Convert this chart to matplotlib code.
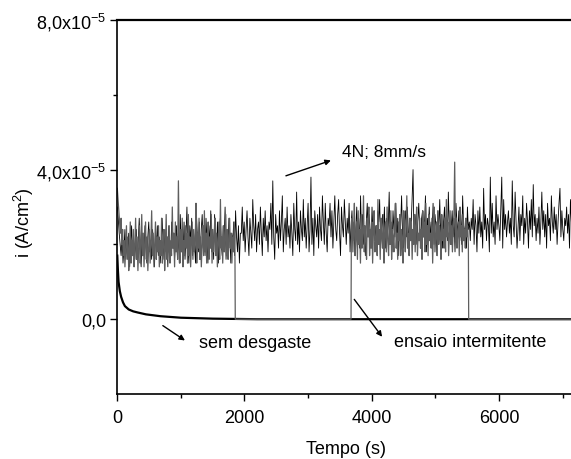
import numpy as np
import matplotlib
matplotlib.use("Agg")
import matplotlib.pyplot as plt
from matplotlib.ticker import MultipleLocator, FixedLocator

plt.rcParams['font.family'] = ['Liberation Sans', 'DejaVu Sans']
plt.rcParams['mathtext.default'] = 'regular'

# Values, current in units of 1e-6 A/cm2
# continuous test, 4N; 8mm/s (black), 0 .. 7200 s
i_black = [30, 27, 23, 20, 17, 22, 15, 19, 24, 16,
           21, 18, 23, 14, 20, 25, 17, 22, 15, 19,
           24, 16, 21, 27, 18, 14, 23, 20, 17, 25,
           19, 15, 22, 26, 18, 21, 16, 24, 19, 14,
           23, 20, 25, 17, 22, 15, 19, 27, 21, 16,
           24, 18, 22, 14, 25, 20, 17, 26, 19, 23,
           16, 21, 25, 17, 23, 15, 28, 20, 24, 18,
           26, 16, 22, 30, 19, 15, 25, 21, 27, 17,
           23, 20, 15, 28, 22, 18, 26, 16, 24, 28,
           19, 23, 17, 27, 21, 15, 25, 20, 29, 18,
           24, 16, 28, 22, 19, 26, 15, 23, 27, 20,
           17, 25, 21, 30, 16, 24, 19, 27, 22, 15,
           23, 20, 26, 17, 29, 22, 18, 25, 15, 23,
           23, 30, 21, 26, 18, 24, 29, 22, 17, 27,
           23, 19, 32, 25, 21, 28, 18, 24, 26, 20,
           30, 23, 17, 27, 22, 29, 21, 25, 18, 26,
           24, 31, 20, 37, 22, 16, 28, 23, 25, 19,
           29, 21, 26, 33, 18, 24, 27, 20, 30, 22,
           25, 19, 28, 23, 17, 31, 24, 21, 34, 20,
           26, 18, 29, 24, 21, 32, 22, 27, 19, 25,
           31, 18, 24, 38, 20, 27, 17, 29, 25, 22,
           28, 19, 30, 24, 21, 33, 26, 20, 31, 23,
           18, 27, 25, 31, 22, 29, 19, 26, 33, 24,
           21, 28, 32, 23, 17, 30, 25, 22, 32, 26,
           20, 27, 23, 31, 18, 25, 29, 21, 26, 17,
           24, 30, 22, 27, 19, 33, 23, 28, 20, 25,
           17, 26, 31, 22, 28, 24, 19, 30, 23, 27,
           21, 25, 18, 29, 26, 32, 20, 24, 28, 22,
           30, 19, 27, 23, 25, 34, 21, 26, 18, 29,
           24, 22, 31, 20, 27, 17, 28, 25, 33, 23,
           19, 26, 29, 22, 30, 24, 18, 27, 25, 32,
           40, 21, 23, 28, 20, 26, 31, 24, 19, 27,
           29, 22, 25, 33, 18, 27, 24, 30, 21, 26,
           23, 31, 20, 28, 25, 17, 29, 24, 32, 22,
           27, 19, 26, 30, 23, 28, 21, 34, 25, 20,
           24, 29, 22, 27, 18, 31, 26, 23, 29, 21,
           28, 20, 33, 25, 22, 27, 19, 30, 24, 26,
           21, 27, 24, 32, 20, 28, 25, 18, 29, 23,
           30, 22, 26, 19, 35, 24, 28, 21, 27, 25,
           18, 38, 23, 31, 22, 26, 20, 33, 24, 28,
           25, 21, 30, 38, 19, 32, 24, 28, 22, 26,
           29, 23, 27, 20, 37, 25, 22, 34, 26, 19,
           24, 30, 21, 28, 25, 33, 20, 27, 23, 31,
           26, 19, 29, 24, 32, 22, 36, 25, 28, 21,
           27, 23, 30, 20, 26, 34, 24, 29, 22, 28,
           19, 31, 25, 27, 21, 33, 26, 23, 30, 24,
           28, 20, 26, 31, 35, 22, 29, 24, 21, 27,
           25, 30, 23, 28, 19, 32, 26, 24, 29, 22,
           26]
t_black_end = 7200

# intermittent test (gray): wear on 0-1850 s and 3680-5520 s, zero otherwise
i_gray_on1 = [35, 32, 29, 26, 23, 27, 20, 24, 17, 21,
              14, 19, 25, 16, 22, 13, 18, 26, 15, 21,
              17, 24, 14, 20, 27, 16, 22, 13, 19, 25,
              15, 21, 28, 17, 23, 14, 20, 26, 16, 22,
              13, 19, 24, 15, 21, 29, 17, 23, 14, 20,
              26, 16, 22, 18, 25, 14, 21, 17, 27, 15,
              20, 24, 13, 19, 28, 16, 22, 18, 25, 15,
              21, 17, 30, 19, 23, 14, 26, 18, 22, 16,
              37, 20, 15, 24, 18, 27, 14, 21, 17, 25,
              19, 23, 15, 28, 17, 22, 14, 20, 26, 16,
              24, 18, 21, 31, 15, 23, 19, 27, 16, 22,
              14, 20, 25, 17, 29, 18, 23, 15, 21, 26,
              16, 22, 19, 28, 15, 24, 18, 21, 27, 17,
              23, 14, 20, 26, 16, 32, 19, 22, 15, 25,
              18, 21, 28, 17, 24, 16, 20, 27, 19, 23,
              15, 22, 18, 26, 17]
i_gray_on2 = [22, 27, 18, 24, 31, 17, 22, 26, 16, 29,
              20, 24, 15, 28, 19, 23, 33, 18, 25, 21,
              16, 27, 22, 30, 17, 24, 19, 26, 15, 23,
              29, 18, 21, 25, 17, 32, 20, 24, 16, 27,
              22, 19, 28, 15, 23, 26, 18, 30, 21, 17,
              25, 20, 29, 16, 24, 22, 18, 27, 31, 19,
              23, 16, 26, 21, 28, 17, 24, 20, 15, 29,
              22, 18, 25, 33, 19, 23, 17, 27, 21, 26,
              16, 24, 20, 28, 18, 25, 30, 17, 23, 21,
              27, 19, 24, 16, 29, 22, 26, 18, 31, 20,
              25, 17, 28, 21, 23, 19, 27, 15, 24, 30,
              18, 22, 26, 17, 29, 20, 25, 23, 16, 28,
              21, 24, 19, 27, 18, 32, 22, 26, 17, 23,
              29, 20, 25, 18, 24, 28, 42, 21, 27, 19,
              23, 26, 17, 30, 22, 25, 18, 28, 21, 24,
              19, 27, 22, 25, 20]
on_periods = [(0, 1850), (3680, 5520)]

# no wear (sem desgaste)
t_sd = [0, 10, 20, 40, 60, 90, 120, 180, 250, 320, 450, 680, 1000, 1500, 2200, 7200]
i_sd = [17, 13, 10, 7.5, 6, 4.5, 3.5, 2.6, 2.1, 1.8, 1.3, 0.8, 0.4, 0.15, 0, 0]

scale = 1e-6

# build arrays
t_b = np.linspace(0, t_black_end, len(i_black))
y_b = np.array(i_black) * scale

t_g1 = np.linspace(on_periods[0][0], on_periods[0][1], len(i_gray_on1))
t_g2 = np.linspace(on_periods[1][0], on_periods[1][1], len(i_gray_on2))
t_g = np.concatenate([t_g1, [on_periods[0][1] + 5, on_periods[1][0] - 5], t_g2,
                      [on_periods[1][1] + 5, t_black_end]])
y_g = np.concatenate([np.array(i_gray_on1) * scale, [0, 0],
                      np.array(i_gray_on2) * scale, [0, 0]])

fig = plt.figure(figsize=(5.71, 4.6), dpi=100)
ax = fig.add_axes([0.2054, 0.1413, 0.802, 0.813])

ax.plot(t_b, y_b, color='black', lw=0.6)
ax.plot(t_sd, np.array(i_sd) * scale, color='black', lw=1.6)
ax.plot(t_g, y_g, color='#5e5e5e', lw=0.9)

ax.set_xlim(0, 7200)
ax.set_ylim(-2e-5, 8e-5)

# ticks
ax.xaxis.set_major_locator(MultipleLocator(2000))
ax.xaxis.set_minor_locator(MultipleLocator(1000))
ax.yaxis.set_major_locator(FixedLocator([0, 4e-5, 8e-5]))
ax.yaxis.set_minor_locator(FixedLocator([2e-5, 6e-5]))
ax.set_yticklabels(['0,0', '4,0x10$^{-5}$', '8,0x10$^{-5}$'])
ax.tick_params(which='major', direction='out', length=5, width=1, labelsize=13)
ax.tick_params(which='minor', direction='out', length=3, width=1)
ax.tick_params(axis='x', which='major', pad=6)
ax.tick_params(axis='y', which='major', pad=3)

for s in ['left', 'bottom']:
    ax.spines[s].set_linewidth(1.2)
ax.spines['top'].set_linewidth(1.6)
ax.spines['right'].set_visible(False)

ax.set_xlabel('Tempo (s)', fontsize=13, labelpad=10)
ax.set_ylabel('i (A/cm$^2$)', fontsize=13)
ax.yaxis.set_label_coords(-0.178, 0.46)

# annotations
arrow = dict(arrowstyle='-|>', color='black', lw=1, mutation_scale=8)
ax.annotate('', xy=(3400, 4.27e-5), xytext=(2610, 3.81e-5), arrowprops=arrow)
ax.text(3540, 4.48e-5, '4N; 8mm/s', fontsize=12.5, va='center')
ax.annotate('', xy=(1100, -0.61e-5), xytext=(680, -0.13e-5), arrowprops=arrow)
ax.text(1280, -0.61e-5, 'sem desgaste', fontsize=13, va='center')
ax.annotate('', xy=(4190, -0.53e-5), xytext=(3700, 0.59e-5), arrowprops=arrow)
ax.text(4350, -0.59e-5, 'ensaio intermitente', fontsize=13, va='center')

fig.savefig('out.png', dpi=100)
